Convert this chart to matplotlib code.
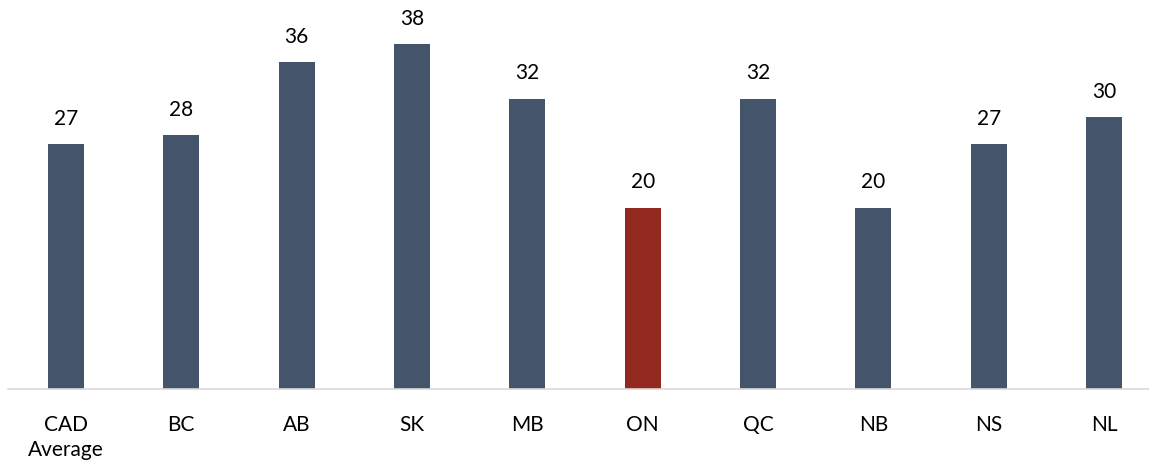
import matplotlib
matplotlib.use("Agg")
import matplotlib.pyplot as plt

categories = ["CAD\nAverage", "BC", "AB", "SK", "MB", "ON", "QC", "NB", "NS", "NL"]
values = [27, 28, 36, 38, 32, 20, 32, 20, 27, 30]
highlight = "ON"

base_color = "#44546A"
hl_color = "#922820"

plt.rcParams['font.family'] = ['Lato', 'DejaVu Sans']

W, H = 1149, 461
fig = plt.figure(figsize=(W/100, H/100), dpi=100)
left, right = 8.3, 1161.7
bottom, top = 389, 8
ax = fig.add_axes([left/W, (H-bottom)/H, (right-left)/W, (bottom-top)/H])

x = range(len(categories))
colors = [hl_color if c.startswith(highlight) else base_color for c in categories]
bars = ax.bar(x, values, width=0.312, color=colors)
for xi, v in zip(x, values):
    ax.annotate(f"{v}", (xi, v), xytext=(0, 11), textcoords="offset points",
                ha="center", va="bottom", fontsize=15, color="black")

ax.set_xlim(-0.5, len(categories)-0.5)
ax.set_ylim(0, 42)
ax.set_xticks(list(x))
ax.set_xticklabels(categories, fontsize=15, linespacing=1.3, va="top")
ax.tick_params(axis='x', length=0, pad=19)
ax.set_yticks([])
for s in ["top", "right", "left"]:
    ax.spines[s].set_visible(False)
ax.spines["bottom"].set_color("#D9D9D9")
ax.spines["bottom"].set_linewidth(1.2)

fig.savefig("out.png", dpi=100)
